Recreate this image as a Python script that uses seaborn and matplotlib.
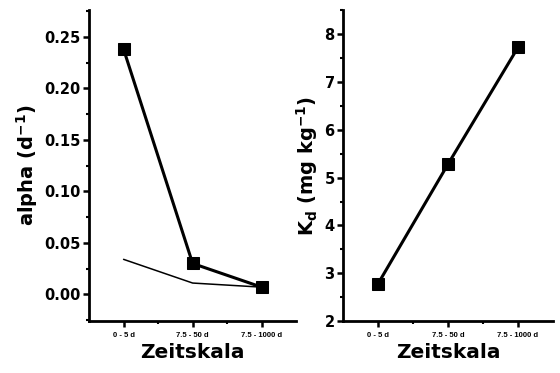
import seaborn as sns
import matplotlib.pyplot as plt
from matplotlib.ticker import MultipleLocator, FixedLocator

# data
zeitskala = ['0 - 5 d', '7.5 - 50 d', '7.5 - 1000 d']
alpha_main = [0.238, 0.030, 0.007]
alpha_thin = [0.034, 0.011, 0.007]
kd_values = [2.78, 5.28, 7.72]

sns.set_theme(style="ticks")
plt.rcParams['font.family'] = ['DejaVu Sans']
plt.rcParams['font.weight'] = 'bold'
plt.rcParams['mathtext.default'] = 'bf'
for key in ('text.color', 'axes.labelcolor', 'xtick.color', 'ytick.color'):
    plt.rcParams[key] = 'black'

fig = plt.figure(figsize=(5.6, 3.73), dpi=100)
ax1 = fig.add_axes([0.159, 0.139, 0.37, 0.834])
ax2 = fig.add_axes([0.6125, 0.139, 0.375, 0.834])

x = [0, 1, 2]

# left panel: alpha
sns.lineplot(x=x, y=alpha_thin, ax=ax1, color='black', linewidth=1.1)
sns.lineplot(x=x, y=alpha_main, ax=ax1, color='black', linewidth=2.2,
             marker='s', markersize=8, markeredgecolor='black')
ax1.set_ylim(-0.026, 0.276)
ax1.yaxis.set_major_locator(MultipleLocator(0.05))
ax1.yaxis.set_minor_locator(MultipleLocator(0.025))
ax1.set_ylabel('alpha (d$^{-1}$)', fontsize=14, fontweight='bold', labelpad=3)

# right panel: Kd
sns.lineplot(x=x, y=kd_values, ax=ax2, color='black', linewidth=2.2,
             marker='s', markersize=8, markeredgecolor='black')
ax2.set_ylim(2, 8.5)
ax2.yaxis.set_major_locator(MultipleLocator(1))
ax2.yaxis.set_minor_locator(MultipleLocator(0.5))
ax2.set_ylabel('K$_{d}$ (mg kg$^{-1}$)', fontsize=14, fontweight='bold', labelpad=3)

for ax in (ax1, ax2):
    ax.set_xlim(-0.5, 2.5)
    ax.set_xticks(x)
    ax.set_xticklabels(zeitskala, fontsize=5.5, fontweight='bold',
                       family=['Liberation Sans'])
    ax.xaxis.set_minor_locator(FixedLocator([0.5, 1.5]))
    ax.set_xlabel('Zeitskala', fontsize=14.5, fontweight='bold', labelpad=3)
    ax.tick_params(axis='y', labelsize=10.5, width=1.8, length=4, direction='out', pad=2)
    ax.tick_params(axis='x', width=1.8, length=4, direction='out', pad=4)
    ax.tick_params(which='minor', width=1.5, length=2.5, direction='out')
    for lab in ax.get_yticklabels():
        lab.set_fontweight('bold')
    for s in ('left', 'bottom'):
        ax.spines[s].set_linewidth(2)
        ax.spines[s].set_color('black')
    sns.despine(ax=ax)

fig.savefig('out.png', dpi=100)
